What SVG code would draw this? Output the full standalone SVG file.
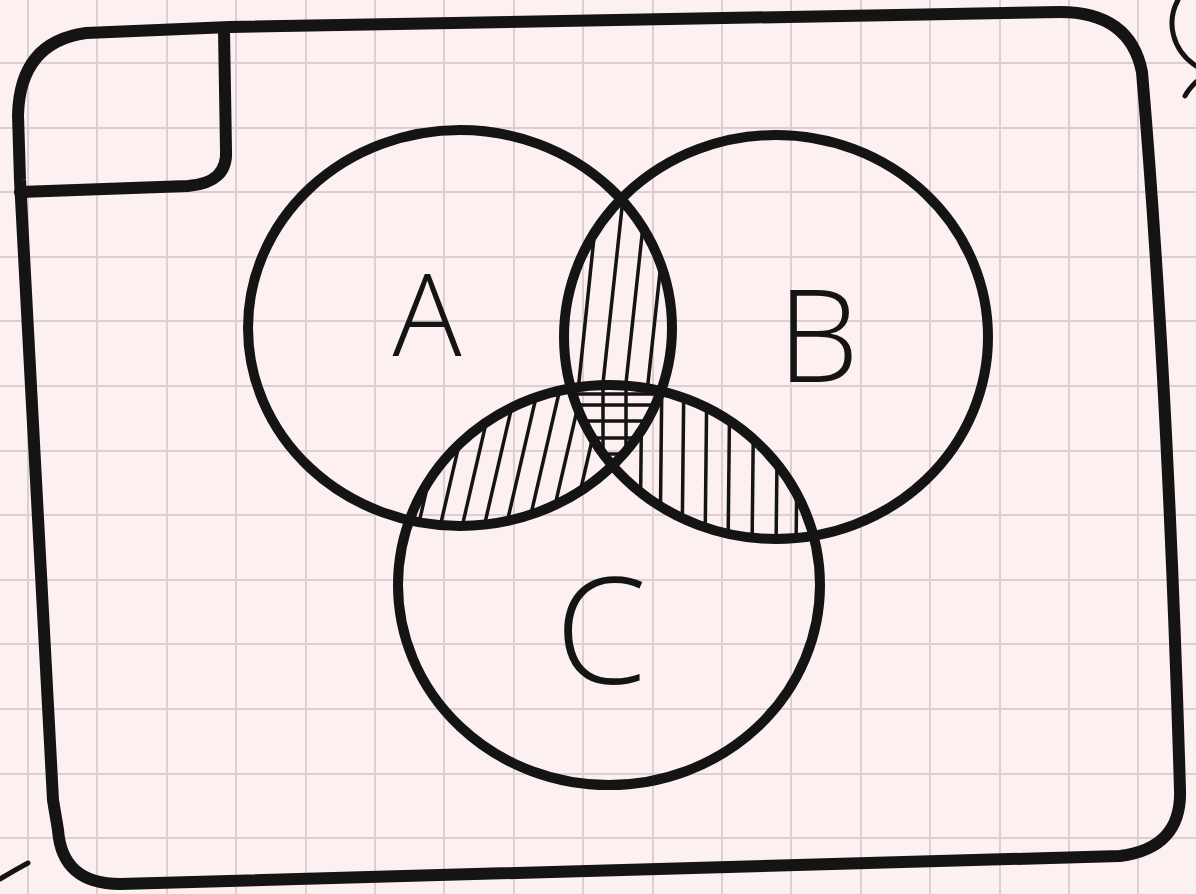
<svg xmlns="http://www.w3.org/2000/svg" width="1196" height="894" viewBox="0 0 1196 894">
  <style>
    .grid line { stroke: #dccfd2; stroke-width: 2; }
    .ink { fill: none; stroke: #141414; stroke-linecap: round; stroke-linejoin: round; }
    .frame { stroke-width: 12; }
    .circ { stroke-width: 10; }
    .hatch line { stroke: #141414; stroke-width: 3.5; stroke-linecap: round; }
    .lbl { font-family: "Open Sans", "Liberation Sans", sans-serif; font-weight: 300; fill: #141414; text-anchor: middle; }
  </style>
  <defs>
    <clipPath id="clipA"><ellipse cx="460" cy="328" rx="212" ry="198"/></clipPath>
    <clipPath id="clipB"><ellipse cx="776" cy="337" rx="212" ry="202"/></clipPath>
    <clipPath id="clipC"><ellipse cx="609" cy="585" rx="211" ry="200"/></clipPath>
    <mask id="mAB" maskUnits="userSpaceOnUse" x="0" y="0" width="1196" height="894">
      <rect width="1196" height="894" fill="black"/>
      <g clip-path="url(#clipB)"><ellipse cx="460" cy="328" rx="212" ry="198" fill="white"/></g>
      <ellipse cx="609" cy="585" rx="211" ry="200" fill="black"/>
    </mask>
    <mask id="mAC" maskUnits="userSpaceOnUse" x="0" y="0" width="1196" height="894">
      <rect width="1196" height="894" fill="black"/>
      <g clip-path="url(#clipC)"><ellipse cx="460" cy="328" rx="212" ry="198" fill="white"/></g>
      <ellipse cx="776" cy="337" rx="212" ry="202" fill="black"/>
    </mask>
    <mask id="mBC" maskUnits="userSpaceOnUse" x="0" y="0" width="1196" height="894">
      <rect width="1196" height="894" fill="black"/>
      <g clip-path="url(#clipC)"><ellipse cx="776" cy="337" rx="212" ry="202" fill="white"/></g>
      <ellipse cx="460" cy="328" rx="212" ry="198" fill="black"/>
    </mask>
  </defs>

  <rect id="paper" width="1196" height="894" fill="#fcf0f0"/>

  <g id="grid" class="grid">
    <line x1="28" y1="0" x2="28" y2="894"/>
    <line x1="97" y1="0" x2="97" y2="894"/>
    <line x1="167" y1="0" x2="167" y2="894"/>
    <line x1="236" y1="0" x2="236" y2="894"/>
    <line x1="306" y1="0" x2="306" y2="894"/>
    <line x1="375" y1="0" x2="375" y2="894"/>
    <line x1="444" y1="0" x2="444" y2="894"/>
    <line x1="514" y1="0" x2="514" y2="894"/>
    <line x1="583" y1="0" x2="583" y2="894"/>
    <line x1="653" y1="0" x2="653" y2="894"/>
    <line x1="722" y1="0" x2="722" y2="894"/>
    <line x1="791" y1="0" x2="791" y2="894"/>
    <line x1="861" y1="0" x2="861" y2="894"/>
    <line x1="930" y1="0" x2="930" y2="894"/>
    <line x1="1000" y1="0" x2="1000" y2="894"/>
    <line x1="1069" y1="0" x2="1069" y2="894"/>
    <line x1="1138" y1="0" x2="1138" y2="894"/>
    <line x1="0" y1="63" x2="1196" y2="63"/>
    <line x1="0" y1="128" x2="1196" y2="128"/>
    <line x1="0" y1="192" x2="1196" y2="192"/>
    <line x1="0" y1="257" x2="1196" y2="257"/>
    <line x1="0" y1="321" x2="1196" y2="321"/>
    <line x1="0" y1="386" x2="1196" y2="386"/>
    <line x1="0" y1="451" x2="1196" y2="451"/>
    <line x1="0" y1="515" x2="1196" y2="515"/>
    <line x1="0" y1="580" x2="1196" y2="580"/>
    <line x1="0" y1="644" x2="1196" y2="644"/>
    <line x1="0" y1="709" x2="1196" y2="709"/>
    <line x1="0" y1="774" x2="1196" y2="774"/>
    <line x1="0" y1="838" x2="1196" y2="838"/>
  </g>

  <g id="frame" class="ink frame">
    <path d="M 20 180 L 18 115 Q 20 42 86 33 L 230 27 L 1060 12 Q 1130 12 1142 72 C 1158 260 1172 520 1180 790 Q 1182 848 1120 856 L 120 884 Q 62 884 58 830 L 53 800 Z"/>
    <path d="M 224 30 L 226 150 Q 228 183 188 186 L 20 192"/>
  </g>

  <g id="fragments" class="ink" style="stroke-width:5">
    <path d="M 1178 0 C 1166 22 1172 50 1196 66"/>
    <path d="M 1196 82 Q 1188 90 1185 96"/>
    <path d="M 0 879 Q 15 870 28 863"/>
  </g>

  <g id="hatching" class="hatch">
    <g id="hatch-AB" mask="url(#mAB)">
      <line x1="600" y1="180" x2="575" y2="420"/>
      <line x1="625" y1="180" x2="599" y2="420"/>
      <line x1="648" y1="180" x2="622" y2="420"/>
      <line x1="670" y1="180" x2="644" y2="420"/>
    </g>
    <g id="hatch-AC" mask="url(#mAC)">
      <line x1="452" y1="380" x2="415" y2="540"/>
      <line x1="474" y1="380" x2="437" y2="540"/>
      <line x1="496" y1="380" x2="459" y2="540"/>
      <line x1="518" y1="380" x2="481" y2="540"/>
      <line x1="540" y1="380" x2="503" y2="540"/>
      <line x1="562" y1="380" x2="525" y2="540"/>
      <line x1="584" y1="380" x2="547" y2="540"/>
      <line x1="606" y1="380" x2="569" y2="540"/>
      <line x1="628" y1="380" x2="591" y2="540"/>
    </g>
    <g id="hatch-BC" mask="url(#mBC)">
      <line x1="642" y1="370" x2="640" y2="550"/>
      <line x1="662" y1="370" x2="660" y2="550"/>
      <line x1="684" y1="370" x2="682" y2="550"/>
      <line x1="707" y1="370" x2="705" y2="550"/>
      <line x1="730" y1="370" x2="728" y2="550"/>
      <line x1="754" y1="370" x2="752" y2="550"/>
      <line x1="778" y1="370" x2="776" y2="550"/>
      <line x1="798" y1="370" x2="796" y2="550"/>
    </g>
    <g id="hatch-ABC" clip-path="url(#clipA)">
      <g clip-path="url(#clipB)">
        <g clip-path="url(#clipC)">
          <line x1="560" y1="394" x2="680" y2="394"/>
          <line x1="560" y1="405" x2="680" y2="405"/>
          <line x1="560" y1="421" x2="680" y2="421"/>
          <line x1="560" y1="438" x2="680" y2="438"/>
          <line x1="560" y1="454" x2="680" y2="454"/>
          <line x1="603" y1="380" x2="603" y2="480"/>
          <line x1="626" y1="380" x2="626" y2="480"/>
        </g>
      </g>
    </g>
  </g>

  <g id="circle-A" class="ink circ"><ellipse cx="460" cy="328" rx="212" ry="198"/></g>
  <g id="circle-B" class="ink circ"><ellipse cx="776" cy="337" rx="212" ry="202"/></g>
  <g id="circle-C" class="ink circ"><ellipse cx="609" cy="585" rx="211" ry="200"/></g>

  <g id="labels">
    <text id="label-A" class="lbl" x="427" y="356" font-size="115">A</text>
    <text id="label-B" class="lbl" x="818" y="382" font-size="130">B</text>
    <text id="label-C" class="lbl" x="601" y="684" font-size="148">C</text>
  </g>
</svg>
